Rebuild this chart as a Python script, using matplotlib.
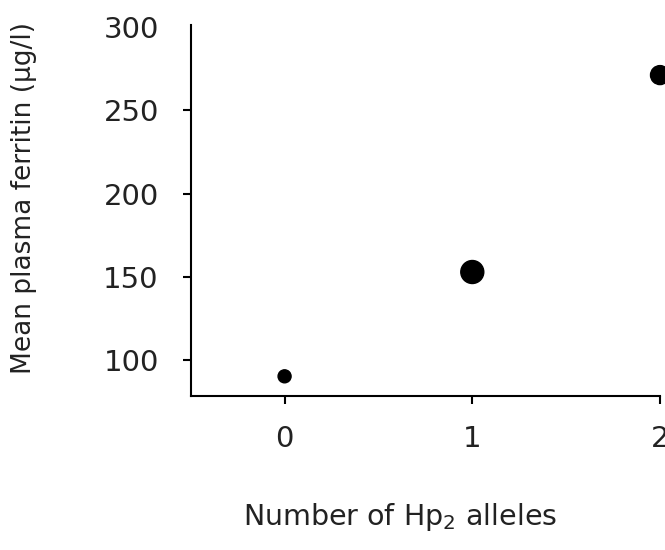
import numpy as np
import matplotlib.pyplot as plt

# number of Hp2 alleles vs mean plasma ferritin
alleles = [0, 1, 2]
ferritin = [90.5, 153, 271]
dot_px = [13, 23, 19]          # marker diameters as drawn in the original

yticks = [100, 150, 200, 250, 300]
xticks = [0, 1, 2]

plt.rcParams['font.family'] = ['DejaVu Sans']
plt.rcParams['mathtext.default'] = 'regular'

fig = plt.figure(figsize=(6.65, 5.5), dpi=100)
ax = fig.add_axes([0.2868, 0.2809, 0.7057, 0.6736])

sizes = [(d * 72 / 100) ** 2 for d in dot_px]
ax.scatter(alleles, ferritin, s=sizes, color='black', zorder=3, clip_on=False)

ax.set_xlim(-0.5, 2.0)
ax.set_ylim(79, 301)
ax.set_xticks(xticks)
ax.set_yticks(yticks)
ax.tick_params(labelsize=21, length=6, width=1.5, direction='out', labelcolor='#222222')
ax.tick_params(axis='y', pad=17)
ax.tick_params(axis='x', pad=15)
# no tick mark at the top of the y axis
ax.yaxis.get_major_ticks()[-1].tick1line.set_visible(False)

ax.spines['top'].set_visible(False)
ax.spines['right'].set_visible(False)
ax.spines['left'].set_linewidth(1.5)
ax.spines['bottom'].set_linewidth(1.5)

fig.text(0.602, 0.045, 'Number of Hp$_2$ alleles', fontsize=20.5, ha='center', va='baseline',
         color='#222222')
fig.text(0.036, 0.64, 'Mean plasma ferritin (\u00b5g/l)', fontsize=19, rotation='vertical',
         ha='center', va='center', color='#222222')

plt.savefig('out.png', dpi=100)
